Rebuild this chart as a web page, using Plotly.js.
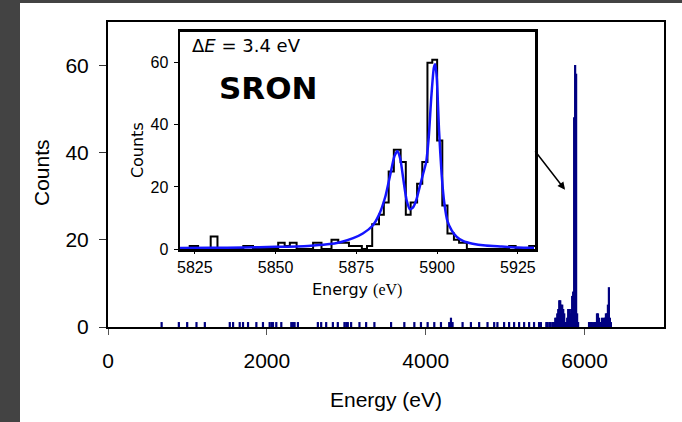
<!DOCTYPE html>
<html>
<head>
<meta charset="utf-8">
<script src="https://cdn.plot.ly/plotly-3.0.1.min.js"></script>
<style>
  html, body { margin: 0; padding: 0; width: 682px; height: 422px; overflow: hidden; background: #434343; }
  #chart { position: absolute; left: 20px; top: 3px; width: 662px; height: 419px; background: #ffffff; }
</style>
</head>
<body>
<div id="chart"></div>
<script>
// Full-range spectrum: bin centres (eV) and counts per bin
const mainEnergy = [
  675, 892, 997, 1114, 1219, 1533, 1575, 1658, 1700, 1763, 1868, 1951, 2035, 2060, 2077, 2119,
  2182, 2308, 2330, 2349, 2391, 2642, 2684, 2747, 2831, 2893, 2977, 3000, 3019, 3061, 3166, 3250,
  3354, 3564, 3731, 3857, 3940, 4024, 4108, 4192, 4296, 4318, 4338, 4464, 4569, 4673, 4778, 4862,
  4903, 4987, 5050, 5113, 5176, 5239, 5302, 5364, 5427,
  5450, 5518.75, 5531.25, 5556.25, 5568.75, 5593.75, 5606.25, 5618.75, 5631.25, 5643.75,
  5656.25, 5668.75, 5681.25, 5693.75, 5706.25, 5718.75, 5731.25, 5743.75, 5756.25, 5768.75,
  5781.25, 5793.75, 5806.25, 5818.75, 5831.25, 5843.75, 5856.25, 5868.75, 5881.25, 5893.75,
  5906.25, 5918.75,
  6056.25, 6068.75, 6081.25, 6093.75, 6118.75, 6131.25, 6143.75, 6156.25, 6168.75, 6181.25,
  6193.75, 6206.25, 6218.75, 6231.25, 6243.75, 6256.25, 6268.75, 6281.25, 6293.75, 6306.25,
  6318.75, 6331.25
];
const mainCounts = [
  1, 1, 1, 1, 1, 1, 1, 1, 1, 1, 1, 1, 1, 1, 1, 1,
  1, 1, 1, 1, 1, 1, 1, 1, 1, 1, 1, 1, 1, 1, 1, 1,
  1, 1, 1, 1, 1, 1, 1, 1, 1, 2, 1, 1, 1, 1, 1, 1,
  1, 1, 1, 1, 1, 1, 1, 1, 1,
  1, 1, 1, 1, 1, 1, 1, 1, 2, 2,
  3, 4, 6, 6, 5, 5, 4, 3, 1, 1,
  2, 4, 4, 3, 4, 7, 8, 48, 60, 58,
  3, 1,
  1, 1, 1, 1, 1, 1, 1, 3, 3, 2,
  1, 1, 2, 1, 2, 2, 3, 3, 5, 9,
  2, 1
];
const mainBinWidth = 12.5;
const mainTicks = [0, 2000, 4000, 6000];
const countTicks = [0, 20, 40, 60];

// Zoomed Mn K-alpha region: histogram bin left edges (eV) and counts
const zoomEdges = [
  5820.4, 5823.4, 5826.0, 5829.9, 5832.0, 5840.0, 5843.0, 5850.8, 5852.8, 5854.4,
  5856.5, 5861.6, 5864.2, 5867.3, 5869.4, 5872.7, 5876.7, 5878.3, 5879.9, 5882.0,
  5883.5, 5885.0, 5886.6, 5888.7, 5890.3, 5891.8, 5893.8, 5895.4, 5897.0, 5898.5,
  5900.0, 5901.6, 5903.2, 5905.2, 5906.8, 5909.2, 5922.3, 5924.3, 5928.5, 5930.3
];
const zoomCounts = [
  0, 1, 0, 4, 0, 1, 0, 2, 1, 2,
  0, 2, 0, 3, 2, 1, 0, 1, 8, 11,
  15, 25, 32, 28, 11, 15, 21, 28, 60, 61,
  35, 14, 5, 3, 2, 0, 1, 0, 1, 1
];
// Fitted line profile, sampled (eV, counts)
const fitEnergy = [
  5820, 5830, 5840, 5850, 5860, 5866, 5870, 5874, 5877, 5880, 5882, 5884, 5885.5, 5886.8,
  5887.7, 5888.6, 5889.6, 5890.6, 5891.6, 5892.6, 5893.6, 5894.6, 5895.6, 5896.6, 5897.4,
  5898.2, 5899.0, 5899.4, 5899.9, 5900.6, 5901.4, 5902.2, 5903.2, 5904.5, 5906, 5908,
  5911, 5915, 5920, 5925, 5930
];
const fitCounts = [
  0.3, 0.4, 0.5, 0.7, 1.0, 1.5, 2.2, 3.5, 5, 7.5, 11, 17, 24, 30,
  31.5, 29, 22, 15.5, 12.8, 13.5, 16, 20, 24, 28, 36,
  49, 58.5, 59.5, 55, 38, 24, 15, 9, 6, 4, 2.6,
  1.7, 1.1, 0.8, 0.5, 0.4
];
const zoomTicks = [5825, 5850, 5875, 5900, 5925];

const sans = 'Liberation Sans, Arial, sans-serif';
const verd = 'DejaVu Sans, Verdana, sans-serif';

const traces = [
  {
    type: 'bar', x: mainEnergy, y: mainCounts, width: mainBinWidth,
    marker: { color: '#000080', line: { color: '#000080', width: 1.2 } },
    xaxis: 'x', yaxis: 'y', hoverinfo: 'skip'
  },
  {
    type: 'scatter', mode: 'lines', x: zoomEdges, y: zoomCounts,
    line: { color: '#000000', width: 2, shape: 'hv' },
    xaxis: 'x2', yaxis: 'y2', hoverinfo: 'skip'
  },
  {
    type: 'scatter', mode: 'lines', x: fitEnergy, y: fitCounts,
    line: { color: '#1414ff', width: 2.5, shape: 'spline', smoothing: 0.6 },
    xaxis: 'x2', yaxis: 'y2', hoverinfo: 'skip'
  }
];

const layout = {
  width: 662, height: 419,
  margin: { l: 88, r: 18, t: 19, b: 95 },
  paper_bgcolor: '#ffffff', plot_bgcolor: '#ffffff',
  showlegend: false,
  bargap: 0,
  xaxis: {
    range: [0, 7000], tickvals: mainTicks, ticktext: mainTicks.map(String),
    ticks: 'outside', ticklen: 6, tickwidth: 1, tickcolor: '#555555',
    showline: true, linecolor: '#000000', linewidth: 2, mirror: true,
    showgrid: false, zeroline: false, ticklabelstandoff: 8,
    tickfont: { family: sans, size: 21, color: '#000000' }
  },
  yaxis: {
    range: [0, 70], tickvals: countTicks, ticktext: countTicks.map(String),
    ticks: 'outside', ticklen: 7, tickwidth: 1, tickcolor: '#333333',
    showline: true, linecolor: '#000000', linewidth: 2, mirror: true,
    showgrid: false, zeroline: false, ticklabelstandoff: 6,
    tickfont: { family: sans, size: 21, color: '#000000' }
  },
  xaxis2: {
    anchor: 'y2', domain: [0.1295, 0.768],
    range: [5820.4, 5930.3], tickvals: zoomTicks, ticktext: zoomTicks.map(String),
    ticks: 'outside', ticklen: 2, tickcolor: '#000000',
    showline: true, linecolor: '#000000', linewidth: 2.5, mirror: true,
    showgrid: false, zeroline: false, ticklabelstandoff: 0,
    tickfont: { family: sans, size: 16, color: '#000000' }
  },
  yaxis2: {
    anchor: 'x2', domain: [0.2557, 0.968],
    range: [0, 70], tickvals: countTicks, ticktext: countTicks.map(String),
    ticks: 'outside', ticklen: 4, tickcolor: '#000000',
    showline: true, linecolor: '#000000', linewidth: 2.5, mirror: true,
    showgrid: false, zeroline: false, ticklabelstandoff: 2,
    tickfont: { family: sans, size: 16, color: '#000000' }
  },
  annotations: [
    { xref: 'paper', yref: 'paper', x: 0.5, y: -0.239, xanchor: 'center', yanchor: 'middle',
      text: 'Energy (eV)', showarrow: false, font: { family: sans, size: 21, color: '#000000' } },
    { xref: 'paper', yref: 'paper', x: -0.1187, y: 0.505, xanchor: 'center', yanchor: 'middle',
      text: 'Counts', textangle: -90, showarrow: false, font: { family: sans, size: 21, color: '#000000' } },
    { xref: 'paper', yref: 'paper', x: 0.0522, y: 0.58, xanchor: 'center', yanchor: 'middle',
      text: 'Counts', textangle: -90, showarrow: false, font: { family: verd, size: 16, color: '#000000' } },
    { xref: 'paper', yref: 'paper', x: 0.448, y: 0.124, xanchor: 'center', yanchor: 'middle',
      text: 'Energy <span style="font-family:Liberation Serif, Times New Roman, serif">(eV)</span>', showarrow: false,
      font: { family: verd, size: 16, color: '#000000' } },
    { xref: 'x2', yref: 'y2', x: 5823.5, y: 65.5, xanchor: 'left', yanchor: 'middle',
      text: '\u0394<i>E</i> = 3.4 eV', showarrow: false, font: { family: verd, size: 18, color: '#000000' } },
    { xref: 'x2', yref: 'y2', x: 5847.7, y: 51.9, xanchor: 'center', yanchor: 'middle',
      text: '<b>SRON</b>', showarrow: false, font: { family: verd, size: 31, color: '#000000' } },
    { xref: 'x', yref: 'y', x: 5754, y: 31.5, ax: -31, ay: -40, axref: 'pixel', ayref: 'pixel',
      text: '', showarrow: true, arrowhead: 2, arrowsize: 1, arrowwidth: 1.5, arrowcolor: '#000000' }
  ]
};

Plotly.newPlot('chart', traces, layout, { staticPlot: true, displayModeBar: false });
</script>
</body>
</html>
